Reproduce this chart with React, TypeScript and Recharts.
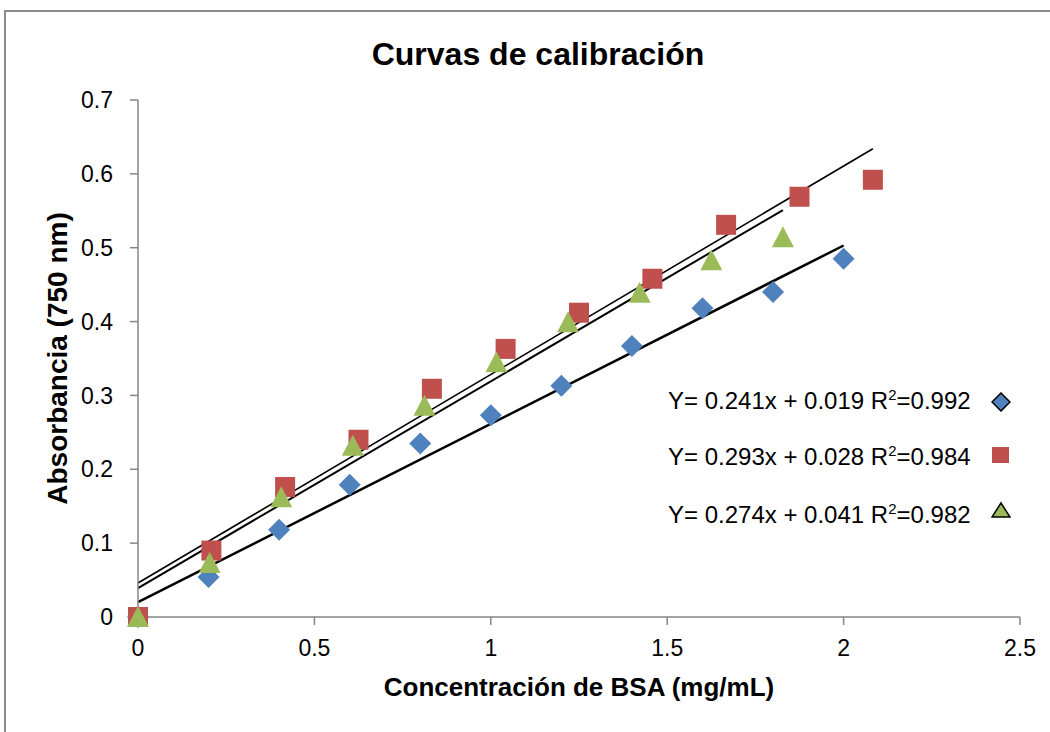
import React from 'react';
import { ScatterChart, Scatter, XAxis, YAxis, ReferenceLine } from 'recharts';

// values
const blueX = [0, 0.2, 0.4, 0.6, 0.8, 1.0, 1.2, 1.4, 1.6, 1.8, 2.0];
const blueY = [0, 0.054, 0.118, 0.179, 0.235, 0.273, 0.313, 0.367, 0.418, 0.44, 0.485];

const redX = [0, 0.208, 0.417, 0.625, 0.833, 1.042, 1.25, 1.458, 1.667, 1.875, 2.083];
const redY = [0, 0.09, 0.176, 0.24, 0.309, 0.363, 0.412, 0.458, 0.531, 0.569, 0.592];

const greenX = [0, 0.203, 0.406, 0.609, 0.812, 1.016, 1.219, 1.422, 1.625, 1.828];
const greenY = [0, 0.073, 0.162, 0.232, 0.286, 0.345, 0.399, 0.439, 0.483, 0.514];

// trend line end points (as drawn in the picture)
const blueTrend = [{ x: 0, y: 0.02 }, { x: 2.0, y: 0.503 }];
const redTrend = [{ x: 0, y: 0.046 }, { x: 2.083, y: 0.634 }];
const greenTrend = [{ x: 0, y: 0.039 }, { x: 1.828, y: 0.551 }];

const xTicks = [0, 0.5, 1, 1.5, 2, 2.5];
const yTicks = [0, 0.1, 0.2, 0.3, 0.4, 0.5, 0.6, 0.7];

const equations = ['Y= 0.241x + 0.019', 'Y= 0.293x + 0.028', 'Y= 0.274x + 0.041'];
const r2Values = ['0.992', '0.984', '0.982'];

const BLUE = '#4F81BD';
const RED = '#C0504D';
const GREEN = '#9BBB59';
const AXIS = '#868686';

const toPoints = (xs: number[], ys: number[]) => xs.map((x, i) => ({ x, y: ys[i] }));

const Diamond = (props: any) => {
  const { cx, cy } = props;
  return <polygon points={`${cx},${cy - 11} ${cx + 11},${cy} ${cx},${cy + 11} ${cx - 11},${cy}`} fill={BLUE} />;
};
const Square = (props: any) => {
  const { cx, cy } = props;
  return <rect x={cx - 10} y={cy - 10} width={20} height={20} fill={RED} />;
};
const Triangle = (props: any) => {
  const { cx, cy } = props;
  return <polygon points={`${cx},${cy - 11} ${cx + 11},${cy + 10} ${cx - 11},${cy + 10}`} fill={GREEN} />;
};

const legendMarkers = [
  <svg width={20} height={20}><polygon points="10,1 19,10 10,19 1,10" fill={BLUE} stroke="#000" strokeWidth={1.5} /></svg>,
  <svg width={20} height={20}><rect x={1} y={2} width={17} height={16} fill={RED} /></svg>,
  <svg width={20} height={20}><polygon points="10,2 19,16 1,16" fill={GREEN} stroke="#000" strokeWidth={1.5} /></svg>,
];
const legendRows = [401, 457, 515];
const markerRows = [402, 455, 511];

const App = () => {
  return (
    <div style={{ position: 'fixed', left: 0, top: 0, width: 1050, height: 732, overflow: 'hidden', background: '#fff', fontFamily: '"Liberation Sans", Arial, sans-serif' }}>
      <div style={{ position: 'absolute', left: 4, top: 10, width: 1100, height: 800, border: '2px solid #8c8c8c' }} />
      <div style={{ position: 'absolute', left: 0, top: 36, width: 1076, textAlign: 'center', fontSize: 32, fontWeight: 'bold', lineHeight: '36px', color: '#000' }}>
        Curvas de calibración
      </div>
      <div style={{ position: 'absolute', left: 0, top: 0 }}>
        <ScatterChart width={1050} height={732} margin={{ top: 100, right: 30, bottom: 0, left: 0 }}>
          <XAxis
            type="number"
            dataKey="x"
            domain={[0, 2.5]}
            ticks={xTicks}
            interval={0}
            height={115}
            stroke={AXIS}
            strokeWidth={1.5}
            tickSize={8}
            tickMargin={15}
            tick={{ fill: '#000', fontSize: 23 }}
            label={{ value: 'Concentración de BSA (mg/mL)', position: 'insideBottom', offset: 36, style: { fill: '#000', fontSize: 26, fontWeight: 'bold' } }}
          />
          <YAxis
            type="number"
            dataKey="y"
            domain={[0, 0.7]}
            ticks={yTicks}
            interval={0}
            width={138}
            stroke={AXIS}
            strokeWidth={1.5}
            tickSize={8}
            tickMargin={17}
            tick={{ fill: '#000', fontSize: 23 }}
            label={{ value: 'Absorbancia (750 nm)', angle: -90, position: 'insideLeft', offset: 57, style: { textAnchor: 'middle', fill: '#000', fontSize: 28, fontWeight: 'bold' } }}
          />
          <ReferenceLine segment={blueTrend} stroke="#000" strokeWidth={2.5} />
          <ReferenceLine segment={redTrend} stroke="#000" strokeWidth={1.6} />
          <ReferenceLine segment={greenTrend} stroke="#000" strokeWidth={2} />
          <Scatter data={toPoints(blueX, blueY)} shape={Diamond} isAnimationActive={false} />
          <Scatter data={toPoints(redX, redY)} shape={Square} isAnimationActive={false} />
          <Scatter data={toPoints(greenX, greenY)} shape={Triangle} isAnimationActive={false} />
        </ScatterChart>
      </div>
      {equations.map((eq, i) => (
        <div key={eq} style={{ position: 'absolute', left: 668, top: legendRows[i] - 13, fontSize: 24, lineHeight: '26px', color: '#000', whiteSpace: 'nowrap' }}>
          {eq} R<sup style={{ fontSize: 15, lineHeight: 0 }}>2</sup>={r2Values[i]}
        </div>
      ))}
      {legendMarkers.map((m, i) => (
        <div key={i} style={{ position: 'absolute', left: 991, top: markerRows[i] - 10, width: 20, height: 20 }}>
          {m}
        </div>
      ))}
    </div>
  );
};

export default App;
